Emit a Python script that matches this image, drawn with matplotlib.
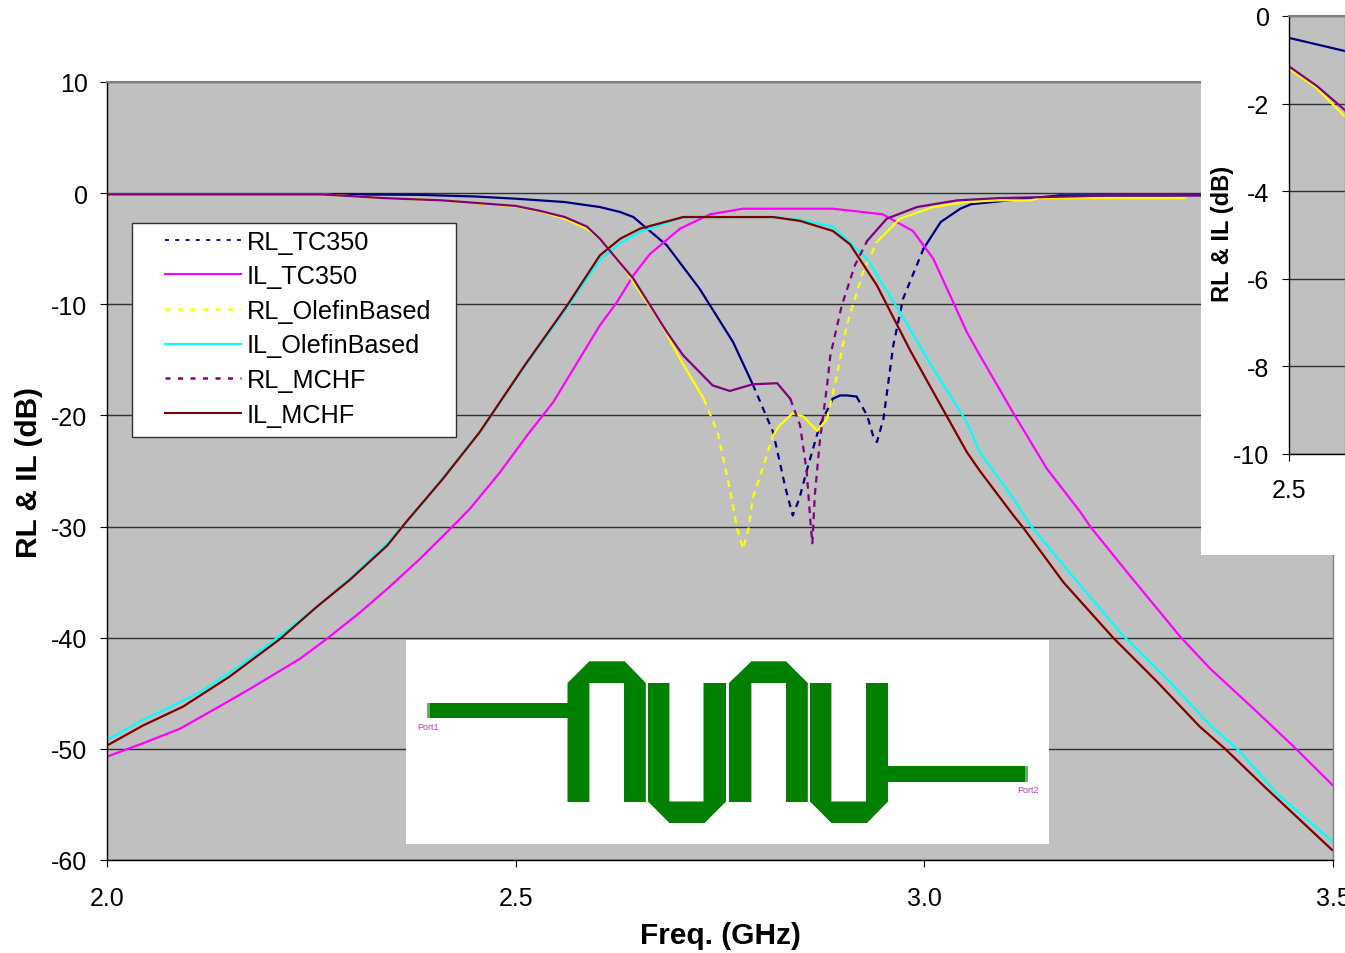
import numpy as np
from matplotlib import pyplot as plt
from matplotlib.lines import Line2D
from matplotlib.patches import Polygon, Rectangle

W, H = 1345, 954
plt.rcParams['font.family'] = ['Liberation Sans', 'DejaVu Sans']
plt.rcParams['axes.unicode_minus'] = False

# values (GHz, dB)
f_rl_tc = [2.0, 2.26, 2.38, 2.45, 2.5, 2.56, 2.579, 2.603, 2.628, 2.644, 2.685, 2.725, 2.766, 2.79, 2.815, 2.83, 2.839, 2.847,
           2.856, 2.872, 2.888, 2.897, 2.905, 2.917, 2.93, 2.938, 2.942, 2.95, 2.962, 2.974, 2.999, 3.02, 3.044, 3.057, 3.09,
           3.166, 3.3, 3.5]
rl_tc = [-0.1, -0.1, -0.15, -0.3, -0.5, -0.8, -1, -1.25, -1.7, -2.15, -4.7, -8.6, -13.4, -17.2, -21.5, -26.5, -29, -27.5,
         -25, -20.9, -18.5, -18.2, -18.2, -18.3, -20, -22, -22.4, -20.3, -13.7, -9.5, -5, -2.6, -1.4, -1, -0.75,
         -0.2, -0.2, -0.15]

f_il_tc = [2.0, 2.044, 2.089, 2.13, 2.175, 2.236, 2.269, 2.31, 2.346, 2.383, 2.42, 2.444, 2.481, 2.514, 2.546, 2.603, 2.624,
           2.644, 2.664, 2.701, 2.738, 2.778, 2.888, 2.949, 2.986, 3.011, 3.052, 3.068, 3.109, 3.15, 3.191, 3.203, 3.248,
           3.313, 3.35, 3.403, 3.452, 3.5]
il_tc = [-50.7, -49.5, -48.2, -46.5, -44.6, -41.9, -40.1, -37.7, -35.4, -32.9, -30.2, -28.4, -25.1, -21.8, -18.8, -11.9, -9.8,
         -7.4, -5.5, -3.2, -1.9, -1.4, -1.4, -1.9, -3.4, -5.9, -12.5, -14.6, -19.8, -24.8, -28.7, -30, -34.1,
         -39.9, -42.8, -46.4, -49.8, -53.3]

f_rl_ol = [2.0, 2.26, 2.34, 2.41, 2.5, 2.53, 2.56, 2.587, 2.603, 2.628, 2.652, 2.677, 2.701, 2.73, 2.747, 2.762, 2.771, 2.778,
           2.785, 2.79, 2.815, 2.823, 2.839, 2.852, 2.869, 2.881, 2.893, 2.905, 2.925, 2.942, 2.97, 3.011, 3.052, 3.09,
           3.13, 3.14, 3.24, 3.319]
rl_ol = [-0.1, -0.1, -0.45, -0.65, -1.2, -1.65, -2.3, -3.2, -4.1, -6.2, -8.9, -11.6, -14.9, -18.5, -21.5, -26.6, -30.2, -32,
         -30.2, -27.5, -21.8, -20.9, -19.8, -20.1, -21.4, -20.3, -16.4, -11.9, -7.1, -4.4, -2.3, -1.25, -0.8, -0.65,
         -0.65, -0.45, -0.45, -0.45]

f_il_ol = [2.0, 2.044, 2.073, 2.114, 2.163, 2.212, 2.257, 2.297, 2.343, 2.383, 2.411, 2.456, 2.511, 2.563, 2.603, 2.628, 2.652,
           2.705, 2.815, 2.848, 2.888, 2.93, 2.97, 3.011, 3.052, 3.068, 3.109, 3.131, 3.191, 3.243, 3.297, 3.35, 3.383,
           3.431, 3.499]
il_ol = [-49.2, -47.4, -46.4, -44.9, -42.5, -39.8, -37.2, -34.7, -31.5, -28.2, -25.6, -21.5, -15.6, -10.3, -6, -4.5, -3.5,
         -2.15, -2.15, -2.4, -3, -5.9, -10.7, -15.8, -20.6, -23.3, -27.5, -30, -35.3, -39.8, -43.7, -47.9, -50,
         -54, -58.3]

f_rl_mc = [2.0, 2.26, 2.34, 2.41, 2.5, 2.53, 2.56, 2.587, 2.603, 2.644, 2.685, 2.705, 2.741, 2.762, 2.79, 2.82, 2.836, 2.848,
           2.856, 2.861, 2.863, 2.866, 2.872, 2.881, 2.885, 2.899, 2.915, 2.93, 2.954, 2.991, 3.04, 3.09, 3.238, 3.5]
rl_mc = [-0.1, -0.1, -0.45, -0.65, -1.15, -1.6, -2.15, -3, -4.1, -7.7, -12.5, -14.6, -17.3, -17.8, -17.2, -17.1, -18.5, -20.9,
         -25, -29.9, -31.5, -27.2, -22.4, -17.3, -14.6, -10.1, -6.5, -4.3, -2.3, -1.25, -0.65, -0.45, -0.2, -0.2]

f_il_mc = [2.0, 2.044, 2.093, 2.15, 2.212, 2.257, 2.297, 2.343, 2.367, 2.411, 2.456, 2.511, 2.563, 2.603, 2.628, 2.652,
           2.705, 2.815, 2.848, 2.888, 2.909, 2.942, 2.983, 3.011, 3.052, 3.068, 3.109, 3.12, 3.17, 3.231, 3.284, 3.337,
           3.368, 3.419, 3.499]
il_mc = [-49.7, -47.9, -46.2, -43.5, -40.1, -37.2, -34.8, -31.7, -29.5, -25.7, -21.5, -15.5, -10.1, -5.6, -4.1, -3.2,
         -2.15, -2.15, -2.5, -3.4, -4.6, -8.3, -14.2, -17.9, -23.3, -25, -29, -30, -35, -40, -43.9, -48,
         -50, -53.6, -59.1]

DASH = (0, (3, 2.5))


def px_axes(x0, y0, x1, y1, **kw):
    # axes placed by picture pixels, y counted from the top
    return fig.add_axes([x0 / W, 1 - y1 / H, (x1 - x0) / W, (y1 - y0) / H], **kw)


def draw_rl(ax, f, v, color, ranges):
    # Excel smears the dashes on the flat parts, so only the steep parts look dashed
    f = np.array(f)
    v = np.array(v)
    edges = [f[0]]
    for a, b in ranges:
        edges += [a, b]
    edges.append(f[-1])
    for i in range(len(edges) - 1):
        m = (f >= edges[i]) & (f <= edges[i + 1])
        ls = DASH if i % 2 == 1 else '-'
        ax.plot(f[m], v[m], color=color, lw=1.6, ls=ls)


def draw_all(ax):
    draw_rl(ax, f_rl_tc, rl_tc, '#000080', [(2.79, 2.888), (2.917, 2.999)])
    ax.plot(f_il_tc, il_tc, color='#FF00FF', lw=1.6)
    draw_rl(ax, f_rl_ol, rl_ol, '#FFFF00', [(2.73, 2.815), (2.881, 2.942)])
    ax.plot(f_il_ol, il_ol, color='#00FFFF', lw=1.6)
    draw_rl(ax, f_rl_mc, rl_mc, '#800080', [(2.836, 2.93)])
    ax.plot(f_il_mc, il_mc, color='#800000', lw=1.6)


def style_axes(ax):
    ax.set_facecolor('#C0C0C0')
    ax.grid(True, axis='y', color='#303030', lw=1)
    ax.set_axisbelow(True)
    ax.spines['top'].set_color('#808080')
    ax.spines['right'].set_color('#808080')
    ax.spines['top'].set_linewidth(1.5)
    ax.spines['right'].set_linewidth(1)
    ax.spines['left'].set_linewidth(1)
    ax.spines['bottom'].set_linewidth(1)
    ax.tick_params(axis='y', labelsize=18, length=5, pad=9)
    ax.tick_params(axis='x', labelsize=18, length=5, pad=14)


fig = plt.figure(dpi=100, figsize=(W / 100, H / 100))

# main chart
ax = px_axes(107, 83, 1333, 861)
style_axes(ax)
draw_all(ax)
ax.set_xlim(2.0, 3.5)
ax.set_ylim(-60, 10)
ax.set_xticks([2.0, 2.5, 3.0, 3.5])
ax.set_xticklabels(['2.0', '2.5', '3.0', '3.5'])
ax.set_yticks(range(-60, 11, 10))
ax.set_xlabel('Freq. (GHz)', fontsize=21.5, fontweight='bold', va='center')
ax.xaxis.set_label_coords(0.5, -75 / 778)
ax.set_ylabel('RL & IL (dB)', fontsize=21.5, fontweight='bold', va='center')
ax.yaxis.set_label_coords(-78 / 1226, 389 / 778)

# legend
fig.add_artist(Rectangle((132 / W, 1 - 438 / H), 324 / W, 214 / H, transform=fig.transFigure,
                         facecolor='white', edgecolor='#303030', lw=1, zorder=3))
handles = [Line2D([], [], color='#000080', lw=1.3, ls=(0, (2.2, 3.5))),
           Line2D([], [], color='#FF00FF', lw=1.5),
           Line2D([], [], color='#FFFF00', lw=1.8, ls=(0, (2, 3))),
           Line2D([], [], color='#00FFFF', lw=1.5),
           Line2D([], [], color='#800080', lw=1.8, ls=(0, (2, 3))),
           Line2D([], [], color='#800000', lw=1.5)]
labels = ['RL_TC350', 'IL_TC350', 'RL_OlefinBased', 'IL_OlefinBased', 'RL_MCHF', 'IL_MCHF']
leg = fig.legend(handles, labels, loc='upper left', bbox_to_anchor=(157.5 / W, 1 - 223 / H), frameon=False, fontsize=18.2,
                 handlelength=3, handletextpad=0.24, labelspacing=0.42, borderpad=0.3, borderaxespad=0)
leg.set_zorder(4)

# white patch and zoomed chart at the top right
patch = px_axes(1201, 0, 1345, 556, zorder=5)
patch.set_facecolor('white')
patch.set_xticks([])
patch.set_yticks([])
for s in patch.spines.values():
    s.set_visible(False)

ax2 = px_axes(1289, 17, 1345, 455, zorder=6)
style_axes(ax2)
draw_all(ax2)
ax2.set_xlim(2.5, 2.56)
ax2.set_ylim(-10, 0)
ax2.set_xticks([2.5])
ax2.set_xticklabels(['2.5'])
ax2.set_yticks(range(-10, 1, 2))
ax2.tick_params(axis='x', pad=12)
fig.text(1223 / W, 1 - 234 / H, 'RL & IL (dB)', rotation=90, fontsize=17, fontweight='bold',
         ha='center', va='center', zorder=7)

# layout picture below the curves
GREEN = '#008000'
feed1 = [(427, 704), (569, 704), (569, 719.5), (427, 719.5)]
feed2 = [(887, 767), (1027, 767), (1027, 782.7), (887, 782.7)]
arch1 = [(567.5, 803), (567.5, 684), (589.4, 662.3), (624.7, 662.3), (645.8, 684), (645.8, 803), (624, 803), (624, 684),
         (589.4, 684), (589.4, 803)]
cup1 = [(648, 684), (669.4, 684), (669.4, 802.5), (703.5, 802.5), (703.5, 684), (726, 684), (726, 802.5), (704.7, 824),
        (669.4, 824), (648, 802.5)]
arch2 = [(729, 803), (729, 684), (751.4, 662.3), (786, 662.3), (807.8, 684), (807.8, 803), (786, 803), (786, 684),
         (751.4, 684), (751.4, 803)]
cup2 = [(810, 684), (831.4, 684), (831.4, 802.5), (866, 802.5), (866, 684), (888, 684), (888, 802.5), (867, 824),
        (831.4, 824), (810, 802.5)]

lay = px_axes(406, 641, 1049, 845, zorder=2)
lay.set_xlim(406, 1049)
lay.set_ylim(845, 641)
lay.set_xticks([])
lay.set_yticks([])
for s in lay.spines.values():
    s.set_visible(False)
for shape in [feed1, feed2, arch1, cup1, arch2, cup2]:
    lay.add_patch(Polygon(shape, closed=True, facecolor=GREEN, edgecolor='none'))
lay.add_patch(Rectangle((427, 704), 3, 15.5, facecolor='#66B366', edgecolor='none'))
lay.add_patch(Rectangle((1025, 767), 3, 15.7, facecolor='#66B366', edgecolor='none'))
lay.text(428, 728, 'Port1', color='#B040B0', fontsize=6.5, ha='center', va='center')
lay.text(1027.5, 790.7, 'Port2', color='#B040B0', fontsize=6.5, ha='center', va='center')

plt.savefig('out.png', dpi=100)
